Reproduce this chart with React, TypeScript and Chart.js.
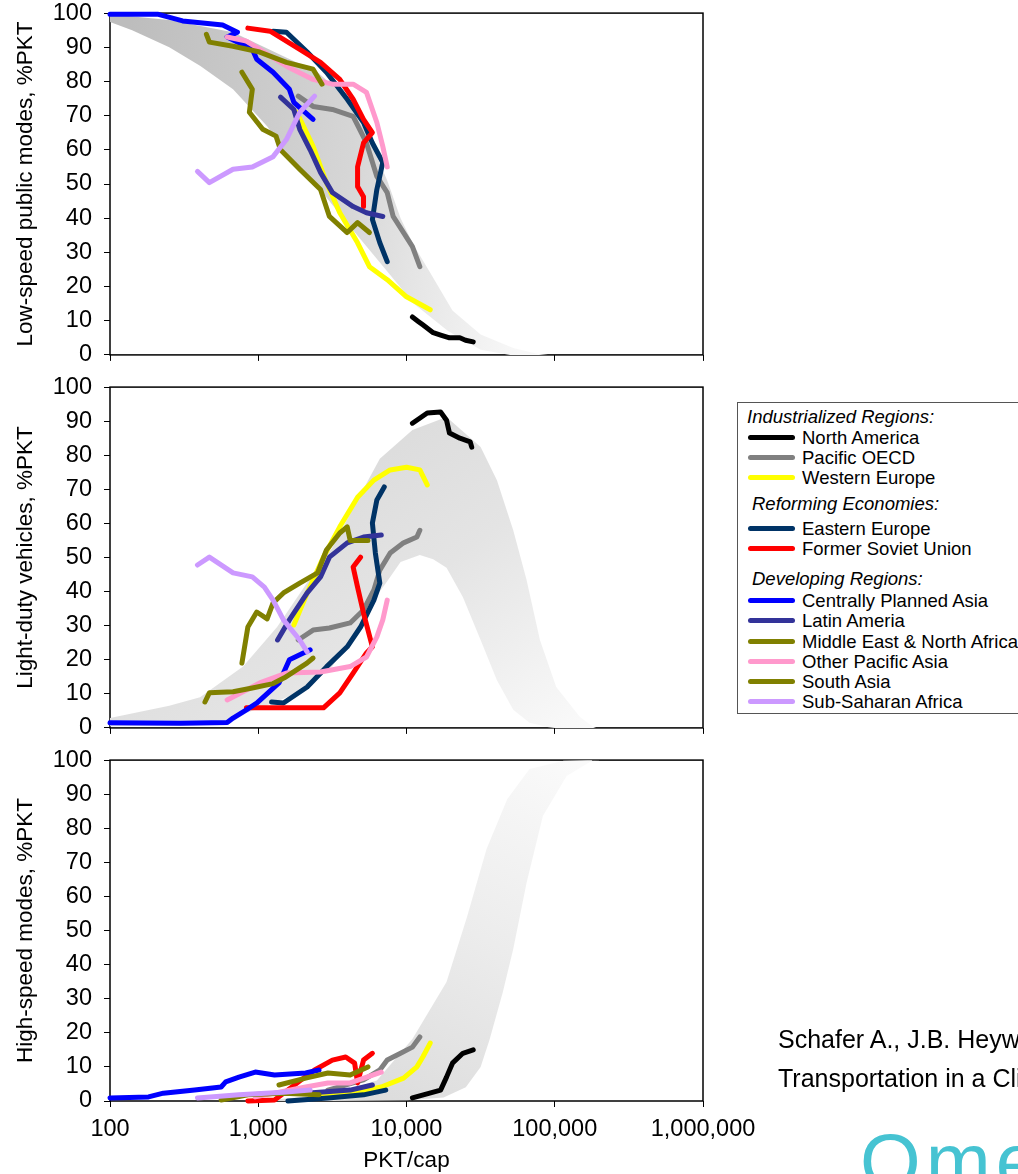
import React, { useEffect, useRef } from "react";
import { Chart, registerables } from "chart.js";

Chart.register(...registerables);
Chart.defaults.font.family = "'Liberation Sans', Arial, sans-serif";

type P = [number, number];

const REGIONS = [
  "North America", "Pacific OECD", "Western Europe", "Eastern Europe", "Former Soviet Union",
  "Centrally Planned Asia", "Latin Ameria", "Middle East & North Africa", "Other Pacific Asia",
  "South Asia", "Sub-Saharan Africa",
];
const REGION_COLORS = [
  "#000000", "#808080", "#FFFF00", "#003366", "#FF0000",
  "#0000FF", "#333399", "#808000", "#FF99CC", "#808000", "#CC99FF",
];
const X_TICKS = [100, 1000, 10000, 100000, 1000000];
const Y_TITLES = ["Low-speed public modes, %PKT", "Light-duty vehicles, %PKT", "High-speed modes, %PKT"];
const X_TITLE = "PKT/cap";

// ---------- Low-speed public modes ----------
const lowNorthAmerica: P[] = [[10965, 11.1], [12000, 9.8], [12882, 8.8], [15136, 6.5], [17000, 5.8], [19498, 5], [22909, 5], [25000, 4.3], [28184, 3.8]];
const lowPacificOECD: P[] = [[1862, 75.7], [2344, 72.7], [3162, 71.8], [4365, 69.8], [5370, 62], [6310, 52.2], [7413, 47.5], [8128, 40.5], [9550, 35.8], [10965, 31.7], [12303, 25.8]];
const lowWesternEurope: P[] = [[1820, 71], [2344, 61], [2884, 50.4], [3548, 41.6], [4677, 32.8], [5623, 25.8], [7413, 22], [10000, 17], [14454, 13.2]];
const lowEasternEurope: P[] = [[1259, 94.7], [1549, 94.4], [2138, 88.6], [2884, 82.7], [3981, 74.8], [5129, 68], [5888, 62], [6918, 56.3], [6310, 48.4], [5888, 39.6], [6607, 32.8], [7413, 27.3]];
const lowFormerSovietUnion: P[] = [[851, 95.6], [1202, 94.7], [1905, 89.4], [2630, 85.6], [3548, 80.6], [4365, 74.8], [5129, 68.9], [5888, 65], [5129, 62], [4677, 55], [4677, 49.3], [5129, 46.3], [5129, 43.4]];
const lowCentrallyPlannedAsia: P[] = [[100, 99.7], [209, 99.7], [309, 97.7], [575, 96.5], [724, 94.4], [617, 93], [912, 89.4], [977, 86.5], [1259, 82.7], [1622, 77.7], [1738, 73.9], [2344, 68.9]];
const lowLatinAmerica: P[] = [[1413, 75.4], [1738, 71.8], [1905, 66], [2239, 60], [2630, 53.4], [3162, 47.5], [4365, 43.4], [5370, 41.6], [6918, 40.5]];
const lowMiddleEast: P[] = [[776, 82.7], [912, 77.7], [871, 71], [1072, 66], [1318, 64], [1413, 60], [1905, 54.3], [2630, 48.4], [3020, 40.5], [3981, 35.8], [4677, 38.7], [5623, 35.8]];
const lowOtherPacificAsia: P[] = [[617, 93], [832, 91.8], [1622, 84], [2344, 80.6], [3162, 79.2], [4365, 79.2], [5370, 76.8], [6310, 68], [6918, 61], [7413, 55]];
const lowSouthAsia: P[] = [[447, 93.8], [468, 91.5], [676, 90.3], [1023, 88.6], [1549, 85.6], [2344, 83.6], [2692, 79.2]];
const lowSubSaharanAfrica: P[] = [[389, 53.7], [468, 50.4], [676, 54.3], [912, 55], [1259, 58], [1549, 63], [1905, 71], [2399, 75.7]];

// ---------- Light-duty vehicles ----------
const ldvNorthAmerica: P[] = [[10965, 89.4], [13804, 92.4], [16982, 92.7], [18621, 90.3], [19498, 86.5], [22909, 85], [26915, 83.9], [27542, 82.4]];
const ldvPacificOECD: P[] = [[1862, 25.8], [2344, 28.7], [3020, 29.3], [4169, 30.8], [5129, 34.6], [6026, 40.5], [6607, 46.3], [7762, 51.3], [9550, 54.3], [11749, 56], [12303, 58]];
const ldvWesternEurope: P[] = [[1738, 30.2], [2138, 39.6], [2754, 50.1], [3548, 59], [4677, 67.7], [6026, 72.7], [7762, 75.7], [10000, 76.5], [12303, 75.7], [13804, 71.3]];
const ldvEasternEurope: P[] = [[1230, 7.6], [1479, 7.3], [2138, 12], [2884, 17.9], [3981, 23.8], [4898, 29.6], [6026, 37.5], [6607, 42.5], [6166, 51.3], [5888, 60.1], [6310, 66.9], [7079, 70.7]];
const ldvFormerSovietUnion: P[] = [[832, 5.9], [2754, 5.9], [3548, 10.3], [4365, 16.1], [5370, 22], [5888, 23.8], [5129, 33.7], [4677, 41.3], [4365, 47.2], [4898, 50.1]];
const ldvCentrallyPlannedAsia: P[] = [[100, 1.5], [300, 1.4], [617, 1.6], [676, 2.9], [832, 5.3], [977, 7.3], [1380, 13.2], [1622, 20], [2239, 22.9]];
const ldvLatinAmerica: P[] = [[1350, 25.8], [1622, 31.7], [2138, 39.6], [2630, 44.3], [3020, 50.1], [3981, 54.3], [5129, 56], [6761, 56.6]];
const ldvMiddleEast: P[] = [[776, 19], [851, 29.6], [977, 34], [1148, 32], [1259, 36.7], [1479, 39.6], [1905, 42.5], [2512, 45.5], [2884, 52.2], [3548, 57.2], [3981, 59], [4169, 55], [5495, 55]];
const ldvOtherPacificAsia: P[] = [[617, 8.2], [1023, 13.2], [1549, 16.1], [2630, 16.4], [4169, 18], [5370, 20.8], [6310, 26.7], [6918, 31.7], [7413, 37.5]];
const ldvSouthAsia: P[] = [[437, 7.6], [468, 10.3], [676, 10.6], [912, 11.7], [1259, 13], [1500, 14.7], [2130, 19], [2344, 20.5]];
const ldvSubSaharanAfrica: P[] = [[389, 47.8], [468, 50.1], [676, 45.5], [912, 44.3], [1100, 41.3], [1259, 37.5], [1479, 31.7], [1905, 25.8], [2138, 22.3]];

// ---------- High-speed modes ----------
const highNorthAmerica: P[] = [[10965, 0.9], [16982, 3.2], [18621, 7], [20417, 11.1], [23988, 14], [28184, 15]];
const highPacificOECD: P[] = [[2951, 3.2], [5129, 6.2], [6607, 9.1], [7413, 12], [9120, 14], [10965, 15.8], [12303, 18.8]];
const highWesternEurope: P[] = [[2239, 1.8], [4169, 2.3], [6761, 4.1], [9550, 6.7], [11749, 10], [12882, 12.9], [14454, 17]];
const highEasternEurope: P[] = [[1585, 0], [2951, 0.9], [5129, 1.8], [7244, 3.2]];
const highFormerSovietUnion: P[] = [[851, 0], [1288, 0.3], [1585, 3.2], [1950, 6.2], [2399, 9.1], [3162, 12], [3890, 12.9], [4467, 11.1], [4677, 5.3], [5129, 12], [5888, 14]];
const highCentrallyPlannedAsia: P[] = [[100, 0.9], [182, 1.2], [229, 2.3], [372, 3.2], [562, 4.1], [603, 5.6], [741, 7], [955, 8.5], [1288, 7.6], [2089, 8.2], [2570, 9.1]];
const highLatinAmerica: P[] = [[2089, 2.3], [4169, 3.2], [5888, 4.7]];
const highMiddleEast: P[] = [[1380, 4.7], [2089, 6.7], [2951, 8.2], [4169, 7.6], [5495, 10]];
const highOtherPacificAsia: P[] = [[955, 1.2], [2089, 4.1], [2951, 5.3], [4169, 5.3], [6761, 8.5]];
const highSouthAsia: P[] = [[562, 0.3], [851, 1.8], [1479, 2.3], [2570, 1.8]];
const highSubSaharanAfrica: P[] = [[389, 0.9], [741, 1.8], [1479, 2.6], [2239, 3.2]];

// ---------- Shaded bands (edges) ----------
const lowBandUpper: P[] = [[100, 99.7], [251, 98], [676, 94.4], [1479, 87.4], [2512, 82.7], [3548, 77], [5370, 65], [7413, 51], [9120, 40], [11220, 32], [14454, 24], [20417, 13], [31623, 6], [52481, 2], [75858, 0.3], [90000, 0]];
const lowBandLower: P[] = [[100, 97.4], [141, 95], [251, 90], [407, 84.5], [676, 77.7], [1148, 66.9], [1479, 60], [2512, 49.3], [4169, 37.5], [6918, 26], [11220, 15], [19055, 7], [31623, 1.5], [50119, 0]];
const ldvBandOuter: P[] = [[100, 2.9], [251, 6.5], [405, 9], [790, 18], [1340, 29.6], [2130, 42.5], [3170, 53], [4300, 64], [6607, 79], [10965, 87.4], [18621, 91.2], [31623, 82.4], [40738, 72.7], [52481, 58], [64565, 43.4], [79433, 25.8], [102329, 12], [147911, 3.2], [181970, 0.3], [190000, 0]];
const ldvBandInner: P[] = [[100, 0.5], [617, 0.8], [832, 4.4], [1259, 7.3], [1995, 11], [3162, 18], [4898, 30.8], [5888, 37], [7413, 43], [9120, 48.7], [12303, 50.7], [15136, 49.5], [18621, 47], [23988, 38.4], [31623, 25.8], [40738, 14], [52481, 5.3], [67608, 1.5], [89125, 0.3], [100000, 0]];
const highBandLeft: P[] = [[1000, 0], [3162, 2], [6310, 6], [10965, 18.2], [18621, 34.9], [25704, 54.3], [34674, 73.9], [47863, 88.6], [67608, 97.4], [114815, 99.8], [200000, 100]];
const highBandRight: P[] = [[3162, 0], [10000, 0.2], [17783, 1], [25119, 4], [31623, 10], [36308, 18], [44668, 32], [52481, 44.6], [64565, 64], [83176, 83.6], [120226, 95.3], [181970, 100]];

const LOW_SERIES = [lowNorthAmerica, lowPacificOECD, lowWesternEurope, lowEasternEurope, lowFormerSovietUnion, lowCentrallyPlannedAsia, lowLatinAmerica, lowMiddleEast, lowOtherPacificAsia, lowSouthAsia, lowSubSaharanAfrica];
const LDV_SERIES = [ldvNorthAmerica, ldvPacificOECD, ldvWesternEurope, ldvEasternEurope, ldvFormerSovietUnion, ldvCentrallyPlannedAsia, ldvLatinAmerica, ldvMiddleEast, ldvOtherPacificAsia, ldvSouthAsia, ldvSubSaharanAfrica];
const HIGH_SERIES = [highNorthAmerica, highPacificOECD, highWesternEurope, highEasternEurope, highFormerSovietUnion, highCentrallyPlannedAsia, highLatinAmerica, highMiddleEast, highOtherPacificAsia, highSouthAsia, highSubSaharanAfrica];

const LOW_BAND = [...lowBandUpper, ...[...lowBandLower].reverse()];
const LDV_BAND = [...ldvBandOuter, ...[...ldvBandInner].reverse()];
const HIGH_BAND = [...highBandLeft, ...[...highBandRight].reverse()];

type GradFn = (chart: any) => any;

const lowGrad: GradFn = (chart) => {
  const x = chart.scales.x, y = chart.scales.y;
  const g = chart.ctx.createLinearGradient(x.getPixelForValue(100), y.getPixelForValue(60), x.getPixelForValue(80000), y.getPixelForValue(40));
  g.addColorStop(0, "#bdbdbd");
  g.addColorStop(0.35, "#cccccc");
  g.addColorStop(0.55, "#d6d6d6");
  g.addColorStop(0.72, "#e4e4e4");
  g.addColorStop(0.87, "#efefef");
  g.addColorStop(1, "#f8f8f8");
  return g;
};
const ldvGrad: GradFn = (chart) => {
  const x = chart.scales.x, y = chart.scales.y;
  const g = chart.ctx.createLinearGradient(x.getPixelForValue(3000), y.getPixelForValue(100), x.getPixelForValue(160000), y.getPixelForValue(0));
  g.addColorStop(0, "#d8d8d8");
  g.addColorStop(0.5, "#e4e4e4");
  g.addColorStop(1, "#fafafa");
  return g;
};
const highGrad: GradFn = (chart) => {
  const x = chart.scales.x, y = chart.scales.y;
  const g = chart.ctx.createLinearGradient(x.getPixelForValue(6000), y.getPixelForValue(0), x.getPixelForValue(120000), y.getPixelForValue(100));
  g.addColorStop(0, "#dcdcdc");
  g.addColorStop(0.5, "#ececec");
  g.addColorStop(1, "#fafafa");
  return g;
};

const boxPlugin = {
  id: "plotBox",
  beforeDatasetsDraw(chart: any) {
    const { ctx, chartArea: a } = chart;
    ctx.save();
    ctx.strokeStyle = "#000";
    ctx.lineWidth = 1.5;
    ctx.strokeRect(a.left, a.top, a.right - a.left, a.bottom - a.top);
    ctx.restore();
  },
};

const TICK_FONT = { size: 23.5, family: "'Liberation Sans', Arial, sans-serif" };
const TITLE_FONT = { size: 22.5, family: "'Liberation Sans', Arial, sans-serif" };

interface PanelProps {
  areaTop: number;
  areaBottom: number;
  axisH: number;
  yTitle: string;
  showX: boolean;
  series: P[][];
  band: P[];
  grad: GradFn;
}

function Panel({ areaTop, areaBottom, axisH, yTitle, showX, series, band, grad }: PanelProps) {
  const ref = useRef<HTMLCanvasElement>(null);
  useEffect(() => {
    const canvas = ref.current;
    if (!canvas) return;
    const makeConfig = (): any => {
      const datasets: any[] = [
        {
          data: band.map(([x, y]) => ({ x, y })),
          showLine: true,
          fill: "shape",
          borderColor: "rgba(0,0,0,0)",
          borderWidth: 0,
          pointRadius: 0,
          order: 100,
          backgroundColor: (c: any) => (c.chart.chartArea ? grad(c.chart) : "#e0e0e0"),
        },
        ...series.map((s, i) => ({
          data: s.map(([x, y]) => ({ x, y })),
          showLine: true,
          fill: false,
          borderColor: REGION_COLORS[i],
          backgroundColor: REGION_COLORS[i],
          borderWidth: 5,
          pointRadius: 0,
          borderJoinStyle: "round",
          borderCapStyle: "round",
          order: -i,
          clip: false,
        })),
      ];
      return {
        type: "scatter",
        data: { datasets },
        options: {
          animation: false,
          responsive: false,
          maintainAspectRatio: false,
          devicePixelRatio: 1,
          layout: { padding: { top: 0, right: 1018 - 703, left: 0, bottom: 0 } },
          plugins: { legend: { display: false }, tooltip: { enabled: false } },
          scales: {
            x: {
              type: "logarithmic",
              min: 100,
              max: 1000000,
              afterBuildTicks: (s: any) => {
                s.ticks = X_TICKS.map((v) => ({ value: v, major: true }));
              },
              afterFit: (s: any) => {
                s.height = axisH;
              },
              ticks: {
                display: showX,
                autoSkip: false,
                maxRotation: 0,
                color: "#000",
                font: TICK_FONT,
                padding: 8,
                callback: (v: any) => Number(v).toLocaleString("en-US"),
              },
              grid: { display: true, drawOnChartArea: false, drawTicks: true, tickLength: 6, color: "#000", lineWidth: 1 },
              border: { display: false },
              title: { display: showX, text: X_TITLE, color: "#000", font: TITLE_FONT, padding: { top: 0, bottom: 0 } },
            },
            y: {
              type: "linear",
              min: 0,
              max: 100,
              afterFit: (s: any) => {
                s.width = 110;
              },
              ticks: { stepSize: 10, color: "#000", font: TICK_FONT, padding: 12 },
              grid: { display: true, drawOnChartArea: false, drawTicks: true, tickLength: 6, color: "#000", lineWidth: 1 },
              border: { display: false },
              title: { display: true, text: yTitle, color: "#000", font: TITLE_FONT, padding: { top: 12, bottom: 0 } },
            },
          },
        },
        plugins: [boxPlugin],
      };
    };
    const make = (h: number) => {
      canvas.width = 1018;
      canvas.height = h;
      canvas.style.width = "1018px";
      canvas.style.height = h + "px";
      return new Chart(canvas, makeConfig());
    };
    const want = areaBottom - areaTop;
    let h = 400;
    let chart = make(h);
    let a = chart.chartArea;
    h = Math.round(h + want - (a.bottom - a.top));
    chart.destroy();
    chart = make(h);
    a = chart.chartArea;
    canvas.style.top = Math.round(areaTop - a.top) + "px";
    return () => chart.destroy();
  }, []);
  return <canvas ref={ref} style={{ position: "absolute", left: 0, top: areaTop, display: "block" }} />;
}

const LEGEND_ROWS: { kind: "head" | "item"; text: string; base: number; idx?: number; left?: number }[] = [
  { kind: "head", text: "Industrialized Regions:", base: 423, left: 747 },
  { kind: "item", text: REGIONS[0], base: 444, idx: 0 },
  { kind: "item", text: REGIONS[1], base: 464, idx: 1 },
  { kind: "item", text: REGIONS[2], base: 484, idx: 2 },
  { kind: "head", text: "Reforming Economies:", base: 510, left: 752 },
  { kind: "item", text: REGIONS[3], base: 535, idx: 3 },
  { kind: "item", text: REGIONS[4], base: 555, idx: 4 },
  { kind: "head", text: "Developing Regions:", base: 585, left: 752 },
  { kind: "item", text: REGIONS[5], base: 607, idx: 5 },
  { kind: "item", text: REGIONS[6], base: 627, idx: 6 },
  { kind: "item", text: REGIONS[7], base: 648, idx: 7 },
  { kind: "item", text: REGIONS[8], base: 668, idx: 8 },
  { kind: "item", text: REGIONS[9], base: 688, idx: 9 },
  { kind: "item", text: REGIONS[10], base: 708, idx: 10 },
];

function Legend() {
  const font = "'Liberation Sans', Arial, sans-serif";
  return (
    <>
      <div
        style={{
          position: "absolute",
          left: 737,
          top: 402,
          width: 320,
          height: 310,
          border: "1px solid #555",
          background: "#fff",
        }}
      />
      {LEGEND_ROWS.map((r, k) =>
        r.kind === "head" ? (
          <div
            key={k}
            style={{
              position: "absolute",
              left: r.left,
              top: r.base - 16.4,
              fontFamily: font,
              fontSize: 18.5,
              lineHeight: "20px",
              fontStyle: "italic",
              whiteSpace: "nowrap",
              color: "#000",
            }}
          >
            {r.text}
          </div>
        ) : (
          <React.Fragment key={k}>
            <div
              style={{
                position: "absolute",
                left: 748,
                top: r.base - 9.5,
                width: 47,
                height: 5,
                borderRadius: 3,
                background: REGION_COLORS[r.idx as number],
              }}
            />
            <div
              style={{
                position: "absolute",
                left: 802,
                top: r.base - 16.4,
                fontFamily: font,
                fontSize: 18.5,
                lineHeight: "20px",
                whiteSpace: "nowrap",
                color: "#000",
              }}
            >
              {r.text}
            </div>
          </React.Fragment>
        )
      )}
    </>
  );
}

export default function App() {
  const font = "'Liberation Sans', Arial, sans-serif";
  return (
    <div
      style={{
        position: "absolute",
        left: 0,
        top: 0,
        width: 1018,
        height: 1174,
        overflow: "hidden",
        background: "#fff",
      }}
    >
      <Panel areaTop={13} areaBottom={355} axisH={17} yTitle={Y_TITLES[0]} showX={false} series={LOW_SERIES} band={LOW_BAND} grad={lowGrad} />
      <Panel areaTop={387} areaBottom={728} axisH={17} yTitle={Y_TITLES[1]} showX={false} series={LDV_SERIES} band={LDV_BAND} grad={ldvGrad} />
      <Panel areaTop={760} areaBottom={1101} axisH={73} yTitle={Y_TITLES[2]} showX={true} series={HIGH_SERIES} band={HIGH_BAND} grad={highGrad} />
      <Legend />
      <div style={{ position: "absolute", left: 778, top: 1026.8, fontFamily: font, fontSize: 25, lineHeight: "25px", whiteSpace: "nowrap", color: "#000" }}>
        Schafer A., J.B. Heywood, H.D. Jacoby, and I.A. Waitz (2009)
      </div>
      <div style={{ position: "absolute", left: 778, top: 1065.8, fontFamily: font, fontSize: 25, lineHeight: "25px", whiteSpace: "nowrap", color: "#000" }}>
        Transportation in a Climate-Constrained World
      </div>
      <div style={{ position: "absolute", left: 860, top: 1122, fontFamily: font, fontSize: 78, lineHeight: "78px", whiteSpace: "nowrap", color: "#46c3d2", letterSpacing: 5 }}>
        Omega
      </div>
    </div>
  );
}
